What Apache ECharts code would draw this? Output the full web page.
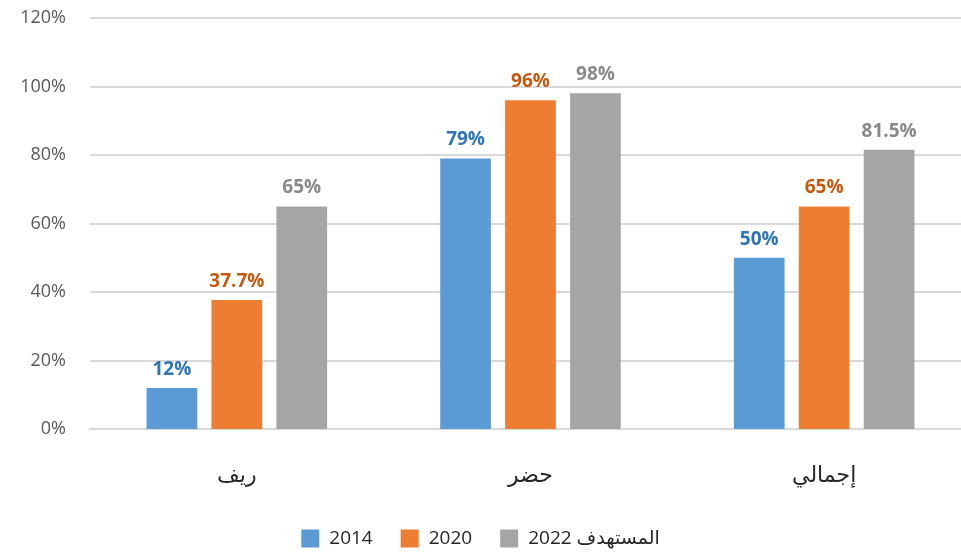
<!DOCTYPE html>
<html>
<head>
<meta charset="utf-8">
<script src="https://cdn.jsdelivr.net/npm/echarts@6/dist/echarts.min.js"></script>
<style>
  html, body { margin: 0; padding: 0; background: #fff; }
  #chart { width: 961px; height: 557px; }
</style>
</head>
<body>
<div id="chart"></div>
<script>
// categories (left to right as drawn)
var categories = ['ريف', 'حضر', 'إجمالي'];
var seriesNames = ['2014', '2020', 'المستهدف 2022'];
var values2014 = [12, 79, 50];
var values2020 = [37.7, 96, 65];
var values2022 = [65, 98, 81.5];
var yTicks = [0, 20, 40, 60, 80, 100, 120];

var barColors = ['#5b9bd5', '#ed7d31', '#a5a5a5'];
var labelColors = ['#2e75b6', '#c55a11', '#898989'];
var fontFam = "'Open Sans', 'DejaVu Sans', sans-serif";

var chart = echarts.init(document.getElementById('chart'));

function makeSeries(name, data, i) {
  return {
    name: name,
    type: 'bar',
    data: data,
    barGap: '28%',
    barCategoryGap: '38.5%',
    itemStyle: { color: barColors[i] },
    label: {
      show: true,
      position: 'top',
      distance: 9,
      color: labelColors[i],
      fontWeight: 'bold',
      fontSize: 19,
      fontFamily: fontFam,
      formatter: function (p) { return p.value + '%'; }
    }
  };
}

chart.setOption({
  animation: false,
  textStyle: { fontFamily: fontFam },
  grid: { left: 90, right: -10, top: 18, bottom: 128, outerBoundsMode: 'none' },
  legend: {
    bottom: 4,
    left: 'center',
    itemWidth: 18,
    itemHeight: 18,
    itemGap: 28,
    icon: 'rect',
    textStyle: { fontSize: 19, color: '#262626', fontFamily: fontFam, padding: [0, 0, 0, 5] },
    data: seriesNames
  },
  xAxis: {
    type: 'category',
    data: categories,
    axisTick: { show: false },
    axisLine: { lineStyle: { color: '#d9d9d9', width: 2 } },
    axisLabel: { fontSize: 22, color: '#262626', margin: 36, fontFamily: fontFam }
  },
  yAxis: {
    type: 'value',
    min: yTicks[0],
    max: yTicks[yTicks.length - 1],
    interval: 20,
    axisLine: { show: false },
    axisTick: { show: false },
    splitLine: { lineStyle: { color: '#d9d9d9', width: 2 } },
    axisLabel: { fontSize: 18, color: '#595959', margin: 24, formatter: '{value}%', fontFamily: fontFam }
  },
  series: [
    makeSeries(seriesNames[0], values2014, 0),
    makeSeries(seriesNames[1], values2020, 1),
    makeSeries(seriesNames[2], values2022, 2)
  ]
});
</script>
</body>
</html>
